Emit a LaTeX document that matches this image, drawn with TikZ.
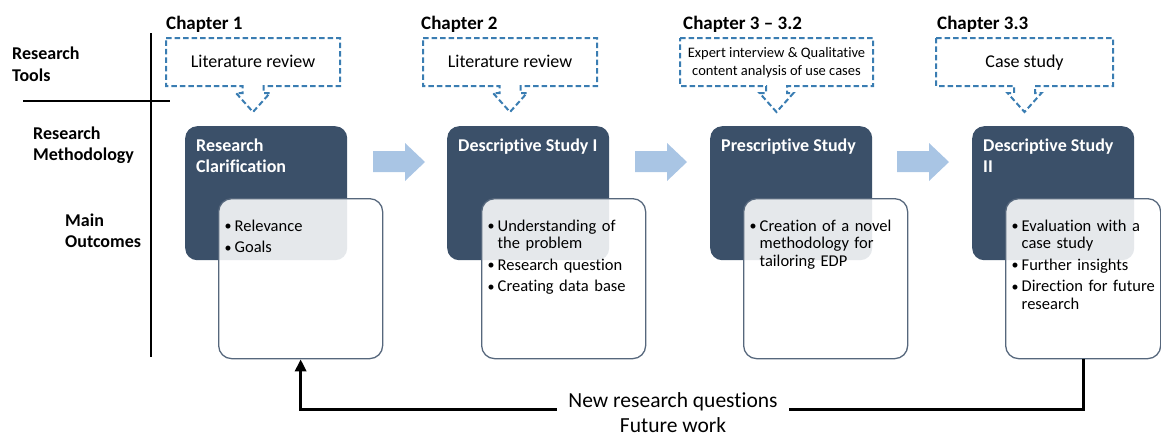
\documentclass[tikz,border=0pt]{standalone}
\usepackage{fontspec}
\setmainfont{Carlito}[Ligatures=NoCommon]
\usetikzlibrary{arrows.meta,calc}
\definecolor{darkbox}{HTML}{3B5069}
\definecolor{blockblue}{HTML}{A9C5E4}
\definecolor{dashblue}{HTML}{3A7DB2}
\definecolor{wborder}{HTML}{56677C}
\newcommand{\bul}[1]{\par\hangindent=10pt\hangafter=1\noindent\strut\makebox[10pt][l]{\raisebox{0.5pt}{\scalebox{0.85}{•}}}#1\par}
\newcommand{\callout}[2]{%
  \draw[dashstyle] (#1-#2,38) -- (#1+#2,38) -- (#1+#2,86) -- (#1+10.5,86) -- (#1+10.5,93) -- (#1+17,93) -- (#1,112) -- (#1-17,93) -- (#1-10.5,93) -- (#1-10.5,86) -- (#1-#2,86) -- cycle;}
\newcommand{\blockarr}[1]{%
  \fill[blockblue] (#1-26,151) -- (#1+6,151) -- (#1+6,143) -- (#1+26,162) -- (#1+6,181) -- (#1+6,172) -- (#1-26,172) -- cycle;}
\begin{document}
\begin{tikzpicture}[x=1pt,y=-1pt,
  darkstyle/.style={draw=none, fill=darkbox, rounded corners=12pt, minimum width=162pt, minimum height=134pt, anchor=north west, inner sep=0pt},
  whitestyle/.style={draw=wborder, line width=1.3pt, fill=white, fill opacity=0.87, rounded corners=13pt, minimum width=164pt, minimum height=160pt, anchor=north west, inner sep=0pt},
  titlestyle/.style={anchor=north west, inner sep=0pt, text=white, align=left, font=\fontsize{18}{21}\selectfont\bfseries},
  bulletstyle/.style={anchor=north west, inner sep=0pt, text width=152pt, align=left, font=\fontsize{16.5}{17.5}\selectfont\setlength{\parskip}{4pt}},
  rowlabel/.style={anchor=north west, inner sep=0pt, align=left, font=\fontsize{18}{21.5}\selectfont\bfseries},
  chapter/.style={anchor=base west, inner sep=0pt, font=\fontsize{19}{22}\selectfont\bfseries},
  calltext/.style={anchor=base, inner sep=0pt, font=\fontsize{18}{21}\selectfont},
  dashstyle/.style={draw=dashblue, line width=2pt, dash pattern=on 5.5pt off 3pt, line join=miter},
  fbline/.style={line width=3pt, -{Triangle[length=12pt,width=11pt]}}
]
\useasboundingbox (0,0) rectangle (1161,437);

% grid lines
\draw[line width=1.8pt] (151,33) -- (151,357);
\draw[line width=1.8pt] (23,101) -- (170,101);

% row labels
\node[rowlabel] (rt) at (12,44.3) {\strut Research\\Tools};
\node[rowlabel] (rm) at (33,124) {\strut Research\\Methodology};
\node[rowlabel] (mo) at (65,211) {\strut Main\\Outcomes};

% chapters
\node[chapter] (ch1) at (166,29) {Chapter 1};
\node[chapter] (ch2) at (421,29) {Chapter 2};
\node[chapter] (ch3) at (683,29) {Chapter 3 – 3.2};
\node[chapter] (ch4) at (937,29) {Chapter 3.3};

% callouts
\callout{253}{87}
\callout{510}{87}
\callout{776.5}{96.5}
\callout{1024.5}{88.5}
\node[calltext] (c1) at (253,67.5) {Literature review};
\node[calltext] (c2) at (510,67.5) {Literature review};
\node[anchor=north, inner sep=0pt, align=center, font=\fontsize{14.5}{18}\selectfont] (c3) at (776.5,45.1) {\strut Expert interview \& Qualitative\\content analysis of use cases};
\node[calltext] (c4) at (1024.5,67.5) {Case study};

% block arrows
\blockarr{399}
\blockarr{661}
\blockarr{923}

% dark boxes
\node[darkstyle] (d1) at (185,126) {};
\node[darkstyle] (d2) at (447,126) {};
\node[darkstyle] (d3) at (710,126) {};
\node[darkstyle] (d4) at (972,126) {};

% white boxes
\node[whitestyle] (w1) at (218,198) {};
\node[whitestyle] (w2) at (481,198) {};
\node[whitestyle] (w3) at (743,198) {};
\node[whitestyle, minimum width=155pt] (w4) at (1005,198) {};

% titles
\node[titlestyle] (t1) at (196,136.3) {\strut Research\\Clarification};
\node[titlestyle] (t2) at (458,136.3) {\strut Descriptive Study I};
\node[titlestyle] (t3) at (721,136.3) {\strut Prescriptive Study};
\node[titlestyle] (t4) at (983,136.3) {\strut Descriptive Study\\II};

% bullets
\node[bulletstyle] (b1) at (224.5,209.5) {\bul{Relevance}\bul{Goals}};
\node[bulletstyle] (b2) at (487.5,209.5) {\bul{Understanding of\newline the problem}\bul{Research question}\bul{Creating data base}};
\node[bulletstyle] (b3) at (749.5,209.5) {\bul{Creation of a novel\newline methodology for\newline tailoring EDP}};
\node[bulletstyle] (b4) at (1011.5,209.5) {\bul{Evaluation with a\newline case study}\bul{Further insights}\bul{Direction for future\newline research}};

% feedback connector
\coordinate (fbrow) at (0,409);
\draw[fbline] (w4.south) -- (w4.south |- fbrow) -| (w1.south);
\node[fill=white, inner xsep=11.5pt, inner ysep=0pt, align=center, anchor=north, font=\fontsize{21.5}{25.5}\selectfont] (fw) at (673,389) {\strut New research questions\\Future work};
\end{tikzpicture}
\end{document}
